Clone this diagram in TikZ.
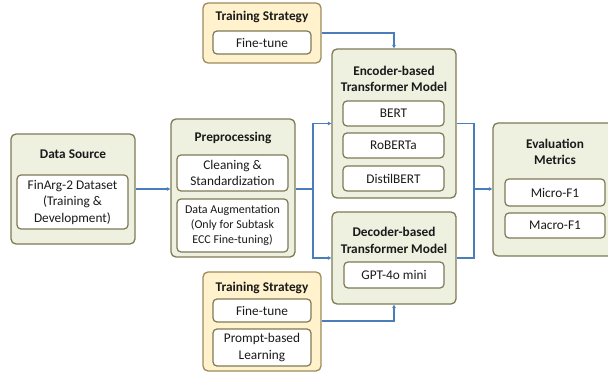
\documentclass[tikz,border=0pt]{standalone}
\usepackage{fontspec}
\setmainfont{Carlito}
\usetikzlibrary{arrows.meta}
\definecolor{outerfill}{HTML}{EEF0E0}
\definecolor{bordercol}{HTML}{7E7A56}
\definecolor{tsfill}{HTML}{FFF2CC}
\definecolor{tsborder}{HTML}{9E8B5C}
\definecolor{linkblue}{HTML}{4A7EBB}
\definecolor{txt}{HTML}{1A1A1A}
\tikzset{
  outerbox/.style={draw=bordercol, line width=1.3pt, fill=outerfill, rounded corners=5pt, inner sep=0pt},
  tsbox/.style={draw=tsborder, line width=1.3pt, fill=tsfill, rounded corners=5pt, inner sep=0pt},
  innerbox/.style={draw=bordercol, line width=1.2pt, fill=white, rounded corners=4pt, inner sep=0pt, align=center, text=txt, font=\fontsize{13.3}{16.5}\selectfont},
  smalltext/.style={font=\fontsize{12}{15}\selectfont},
  titletext/.style={font=\bfseries\fontsize{13.3}{16.5}\selectfont, align=center, text=txt, inner sep=0pt},
  conn/.style={draw=linkblue, line width=1.1pt, -{Triangle[length=3.5pt,width=3.5pt]}},
  plain/.style={draw=linkblue, line width=1.1pt}
}
\begin{document}
\begin{tikzpicture}[x=1pt,y=-1pt]
\useasboundingbox (0,0) rectangle (608,372);
% Data Source
\node[outerbox, minimum width=124pt, minimum height=110pt] (ds) at (73,189) {};
\node[titletext] (dst) at (73,154) {Data Source};
\node[innerbox, minimum width=111pt, minimum height=54pt] (dsi) at (72.5,202) {FinArg-2 Dataset\\(Training \&\\Development)};
% Preprocessing
\node[outerbox, minimum width=124pt, minimum height=138pt] (pre) at (233,188) {};
\node[titletext] (pret) at (233,138) {Preprocessing};
\node[innerbox, minimum width=111pt, minimum height=36pt] (pre1) at (232.5,173) {Cleaning \&\\Standardization};
\node[innerbox, smalltext, minimum width=111pt, minimum height=53pt] (pre2) at (232.5,225.5) {Data Augmentation\\(Only for Subtask\\ECC Fine-tuning)};
% Training strategy top
\node[tsbox, minimum width=118pt, minimum height=60pt] (ts1) at (262,33) {};
\node[titletext] (ts1t) at (262,17) {Training Strategy};
\node[innerbox, minimum width=98pt, minimum height=23pt] (ts1a) at (262,42.5) {Fine-tune};
% Encoder
\node[outerbox, minimum width=124pt, minimum height=149pt] (enc) at (394,123.5) {};
\node[titletext] (enct) at (394,79) {Encoder-based\\Transformer Model};
\node[innerbox, minimum width=101pt, minimum height=25pt] (bert) at (393.5,113.5) {BERT};
\node[innerbox, minimum width=101pt, minimum height=25pt] (roberta) at (393.5,145.5) {RoBERTa};
\node[innerbox, minimum width=101pt, minimum height=25pt] (distil) at (393.5,178.5) {DistilBERT};
% Decoder
\node[outerbox, minimum width=124pt, minimum height=92pt] (dec) at (394,258) {};
\node[titletext] (dect) at (394,240.5) {Decoder-based\\Transformer Model};
\node[innerbox, minimum width=100pt, minimum height=26pt] (gpt) at (394,275) {GPT-4o mini};
% Training strategy bottom
\node[tsbox, minimum width=118pt, minimum height=99pt] (ts2) at (262,321.5) {};
\node[titletext] (ts2t) at (262,288) {Training Strategy};
\node[innerbox, minimum width=98pt, minimum height=23pt] (ts2a) at (262,310.5) {Fine-tune};
\node[innerbox, minimum width=98pt, minimum height=37pt] (ts2b) at (262,347.5) {Prompt-based\\Learning};
% Evaluation
\node[outerbox, minimum width=124pt, minimum height=133pt] (ev) at (555,189.5) {};
\node[titletext] (evt) at (555,152) {Evaluation\\Metrics};
\node[innerbox, minimum width=100pt, minimum height=27pt] (micro) at (555,192.5) {Micro-F1};
\node[innerbox, minimum width=100pt, minimum height=25pt] (macro) at (555,225.5) {Macro-F1};
% Connectors
\coordinate (s1) at (313,189);
\coordinate (s2) at (474,189);
\draw[conn] (ds.east |- 0,189) -- (pre.west |- 0,189);
\draw[plain] (pre.east |- 0,189) -- (s1);
\draw[conn] (s1) |- (enc.west);
\draw[conn] (s1) |- (dec.west);
\draw[plain] (enc.east) -| (s2);
\draw[plain] (dec.east) -| (s2);
\draw[conn] (s2) -- (ev.west |- s2);
\draw[conn] (ts1.east) -| (enc.north);
\draw[conn] (ts2.east |- 0,321) -| (dec.south);
\end{tikzpicture}
\end{document}
